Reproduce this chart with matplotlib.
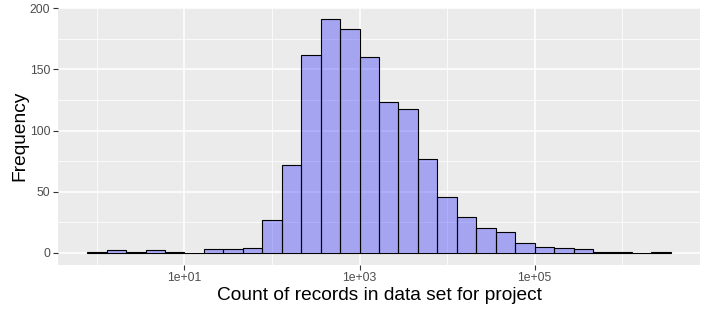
import matplotlib
matplotlib.use("Agg")
import matplotlib.pyplot as plt
import matplotlib.ticker as mticker
import numpy as np

# histogram of log10 counts, 30 bins
log_lo = -1.0 / 9
log_hi = 1.0 + 25 * 2.0 / 9
n_bins = 30
counts = [1, 2, 1, 2, 1, 0, 3, 3, 4, 27,
          72, 162, 191, 183, 160, 123, 118, 77, 46, 29,
          20, 17, 8, 5, 4, 3, 1, 1, 0, 1]

x_major = [1e1, 1e3, 1e5]
x_major_labels = ["1e+01", "1e+03", "1e+05"]
x_minor = [1e0, 1e2, 1e4, 1e6]
y_major = [0, 50, 100, 150, 200]
y_minor = [25, 75, 125, 175]

plt.rcParams['font.family'] = ['Liberation Sans', 'DejaVu Sans']

fig = plt.figure(figsize=(7.08, 3.13), dpi=100)
ax = fig.add_axes([58/708, (313-264.5)/313, 642/708, 256.8/313])
ax.set_facecolor("#EBEBEB")

edges = np.logspace(log_lo, log_hi, n_bins + 1)
ax.bar(edges[:-1], counts, width=np.diff(edges), align="edge",
       facecolor=(0, 0, 1, 0.3), edgecolor="black", linewidth=0.8, zorder=3)

ax.set_xscale("log")
span = log_hi - log_lo
ax.set_xlim(10**(log_lo - 0.05*span), 10**(log_hi + 0.05*span))
ymax = max(counts)
ax.set_ylim(-0.05*ymax, ymax*1.05)

ax.xaxis.set_major_locator(mticker.FixedLocator(x_major))
ax.xaxis.set_major_formatter(mticker.FixedFormatter(x_major_labels))
ax.xaxis.set_minor_locator(mticker.FixedLocator(x_minor))
ax.xaxis.set_minor_formatter(mticker.NullFormatter())
ax.yaxis.set_major_locator(mticker.FixedLocator(y_major))
ax.yaxis.set_minor_locator(mticker.FixedLocator(y_minor))

ax.grid(which="major", color="white", linewidth=1.1, zorder=1)
ax.grid(which="minor", color="white", linewidth=0.55, zorder=1)
ax.set_axisbelow(True)

for s in ax.spines.values():
    s.set_visible(False)

ax.tick_params(which="major", length=3.5, width=0.8, color="#333333",
               labelsize=8.8, labelcolor="#4D4D4D", pad=2)
ax.tick_params(which="minor", length=0)

ax.set_xlabel("Count of records in data set for project", fontsize=13.8, labelpad=2)
ax.set_ylabel("Frequency", fontsize=13.8, labelpad=1)

fig.savefig("out.png", dpi=100)
